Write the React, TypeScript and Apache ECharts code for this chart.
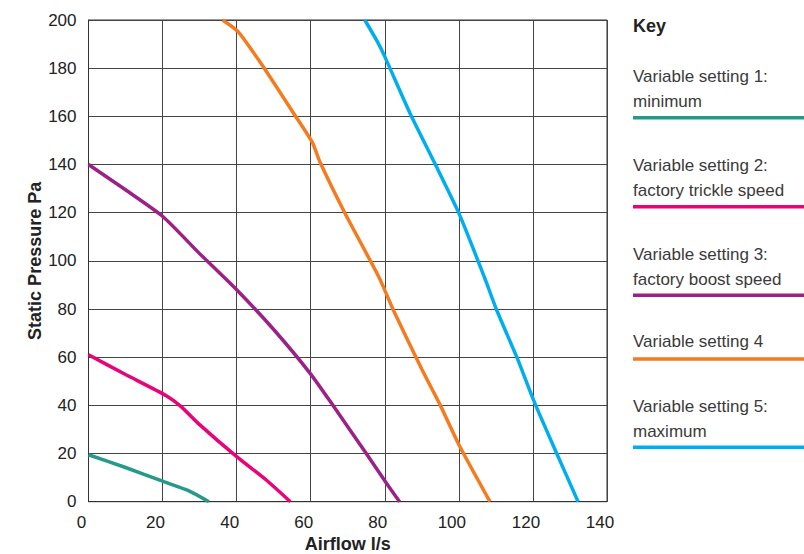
import React, { useEffect, useRef } from "react";
import * as echarts from "echarts";

const xTicks = [0, 20, 40, 60, 80, 100, 120, 140];
const yTicks = [0, 20, 40, 60, 80, 100, 120, 140, 160, 180, 200];

const seriesNames = ["Variable setting 1", "Variable setting 2", "Variable setting 3", "Variable setting 4", "Variable setting 5"];
const keyLabels = [
  ["Variable setting 1:", "minimum"],
  ["Variable setting 2:", "factory trickle speed"],
  ["Variable setting 3:", "factory boost speed"],
  ["Variable setting 4"],
  ["Variable setting 5:", "maximum"],
];
const colors = ["#25998a", "#e8037a", "#9b2188", "#f47b20", "#00aeef"];

const setting1 = [[0, 19.5], [10, 14.2], [20, 8.5], [27, 4.6], [32.5, 0]];
const setting2 = [[0, 61], [10, 52.8], [21, 44], [25, 39.5], [30, 32], [40, 18.7], [48, 9], [54.5, 0]];
const setting3 = [[0, 140], [10, 129.5], [20, 118.5], [30, 103], [40, 88], [50, 71.5], [60, 53], [66, 40], [75, 20], [80.5, 7.6], [84, 0]];
const setting4 = [[36.2, 200], [40.5, 195], [47, 181], [55.5, 161], [60.5, 149], [62.5, 141], [69, 120.5], [78.5, 93], [82.3, 79.6], [90, 55], [95, 40], [100.3, 22.8], [108.4, 0]];
const setting5 = [[74.6, 200], [78, 191], [80, 184.8], [86.8, 161.3], [93.5, 140.5], [100, 119.8], [107, 92.8], [110.2, 79.6], [115.6, 60.2], [120.5, 40.9], [126.4, 20.1], [132.2, 0]];

const allData = [setting1, setting2, setting3, setting4, setting5];

// legend layout
const keyTextY = [[76, 101.7], [165, 190], [254, 279], [341.7], [406.7, 431.7]];
const keyLineY = [117.7, 206.7, 295.3, 359, 447.3];

export default function App() {
  const ref = useRef<HTMLDivElement>(null);
  useEffect(() => {
    document.body.style.margin = "0";
    const chart = echarts.init(ref.current!, null, { renderer: "svg" });
    const font = "'Liberation Sans', Arial, sans-serif";
    const graphics: any[] = [
      {
        type: "text",
        left: 633,
        top: 17,
        style: { text: "Key", font: `bold 18px ${font}`, fill: "#222" },
      },
    ];
    keyLabels.forEach((lines, i) => {
      lines.forEach((t, j) => {
        graphics.push({
          type: "text",
          x: 633,
          y: keyTextY[i][j],
          style: { text: t, font: `17px ${font}`, fill: "#3a3a3a", verticalAlign: "middle", align: "left" },
        });
      });
      graphics.push({
        type: "line",
        shape: { x1: 633, y1: keyLineY[i], x2: 804, y2: keyLineY[i] },
        style: { stroke: colors[i], lineWidth: 3.5 },
      });
    });
    chart.setOption({
      animation: false,
      grid: {
        left: 88.5,
        right: 197,
        top: 20,
        bottom: 52.3,
        show: true,
        borderColor: "#333",
        borderWidth: 1,
        containLabel: false,
        outerBoundsMode: "none",
      },
      xAxis: {
        type: "value",
        min: 0,
        max: 140,
        interval: 20,
        name: "Airflow l/s",
        nameLocation: "middle",
        nameGap: 33.5,
        nameMoveOverlap: false,
        nameTextStyle: { fontFamily: font, fontWeight: "bold", fontSize: 18, color: "#222" },
        axisLine: { show: true, lineStyle: { color: "#333", width: 1 } },
        axisTick: { show: false },
        axisLabel: {
          fontFamily: font,
          fontSize: 17,
          color: "#222",
          margin: 12,
          padding: [0, 14, 0, 0],
          formatter: (v: number) => (xTicks.includes(v) ? String(v) : ""),
        },
        splitLine: { show: true, lineStyle: { color: "#444", width: 1 } },
      },
      yAxis: {
        type: "value",
        min: 0,
        max: 200,
        interval: 20,
        name: "Static Pressure Pa",
        nameLocation: "middle",
        nameGap: 45,
        nameMoveOverlap: false,
        nameRotate: 90,
        nameTextStyle: { fontFamily: font, fontWeight: "bold", fontSize: 18, color: "#222" },
        axisLine: { show: true, lineStyle: { color: "#333", width: 1 } },
        axisTick: { show: false },
        axisLabel: { fontFamily: font, fontSize: 17, color: "#222", margin: 12, formatter: (v: number) => (yTicks.includes(v) ? String(v) : "") },
        splitLine: { show: true, lineStyle: { color: "#444", width: 1 } },
      },
      series: allData.map((d, i) => ({
        name: seriesNames[i],
        type: "line",
        data: d,
        smooth: 0.2,
        showSymbol: false,
        symbol: "none",
        lineStyle: { color: colors[i], width: 3.5 },
        itemStyle: { color: colors[i] },
        clip: true,
      })),
      graphic: graphics,
    });
    return () => chart.dispose();
  }, []);
  return <div ref={ref} style={{ width: 804, height: 554 }} />;
}
